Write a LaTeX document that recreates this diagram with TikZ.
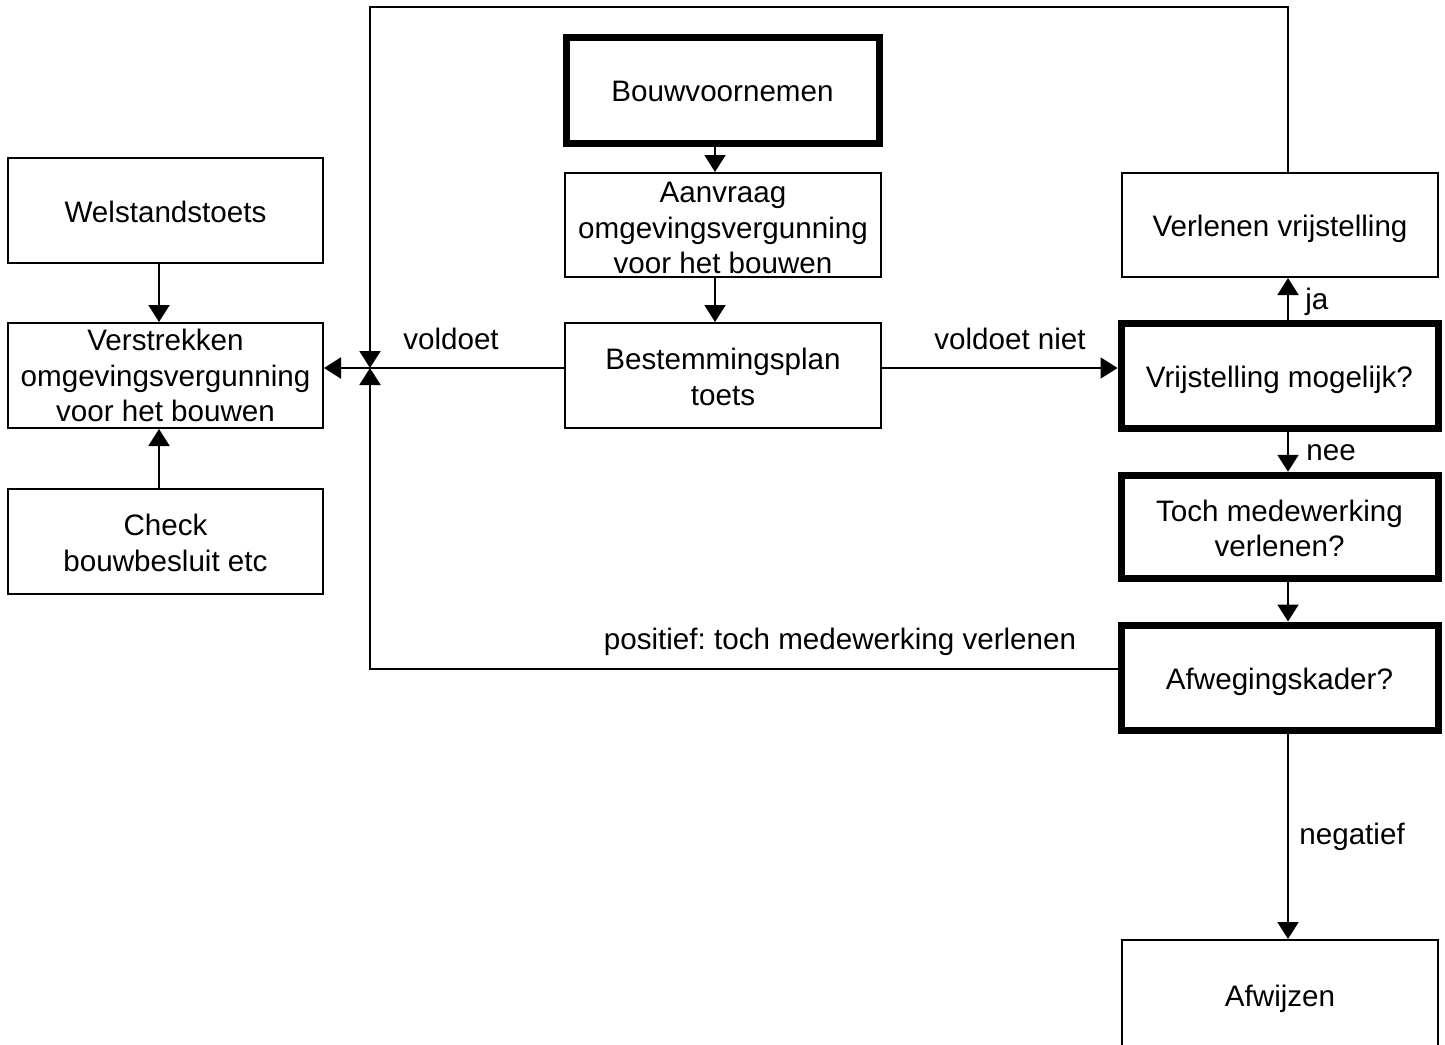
\documentclass[tikz,border=0pt]{standalone}
\usepackage{fontspec}
\setmainfont{Liberation Sans}
\usetikzlibrary{arrows.meta,calc}
\newcommand\topstr{\rule{0pt}{15pt}}
\newcommand\botstr{\rule[-3.2pt]{0pt}{3.2pt}}
\newcommand\mystrut{\topstr\botstr}
\frenchspacing
\begin{document}
\begin{tikzpicture}[x=0.5pt,y=-0.5pt,
  txt/.style={font=\fontsize{14.8}{17.75}\selectfont},
  box/.style={txt,draw,line width=1pt,align=center,inner sep=0pt},
  thickbox/.style={box,line width=3.5pt},
  lbl/.style={txt,inner sep=0pt},
  arr/.style={line width=1pt,-{Triangle[length=8.5pt,width=10.5pt]}}]
\useasboundingbox (0,0) rectangle (1445,1044);
\clip (0,0) rectangle (1445,1044);
\fill[white] (0,0) rectangle (1445,1044);
% nodes
\node[box,minimum width=157.5pt,minimum height=52.5pt] (welst) at (165.5,210.5) {\mystrut Welstandstoets};
\node[box,minimum width=157.5pt,minimum height=52.5pt] (verstr) at (165.5,375.5) {Verstrekken\\omgevingsvergunning\\voor het bouwen};
\node[box,minimum width=157.5pt,minimum height=52.5pt] (check) at (165.5,541.5) {\topstr Check\\bouwbesluit etc\botstr};
\node[thickbox,minimum width=156.5pt,minimum height=53pt] (bouw) at (722.5,90) {\mystrut Bouwvoornemen};
\node[box,minimum width=158pt,minimum height=52pt] (aanv) at (723,225) {\rule{0pt}{13.5pt}Aanvraag\\omgevingsvergunning\\voor het bouwen};
\node[box,minimum width=158pt,minimum height=52.5pt] (best) at (723,375.5) {\topstr Bestemmingsplan\\toets\botstr};
\node[box,minimum width=158pt,minimum height=52pt] (verl) at (1280,225) {\mystrut Verlenen vrijstelling};
\node[thickbox,minimum width=158.5pt,minimum height=52.5pt] (vrij) at (1279.5,375.5) {\mystrut Vrijstelling mogelijk?};
\node[thickbox,minimum width=158.5pt,minimum height=51.75pt] (toch) at (1279.5,527) {\topstr Toch medewerking\\verlenen?\botstr};
\node[thickbox,minimum width=158.5pt,minimum height=52.5pt] (afweg) at (1279.5,677.5) {\mystrut Afwegingskader?};
\node[box,minimum width=158pt,minimum height=55pt] (afw) at (1280,995) {\mystrut Afwijzen};
% helper coordinates
\coordinate (cxL) at (159,0);
\coordinate (cxM) at (715,0);
\coordinate (cxR) at (1288,0);
\coordinate (hy) at (0,368);
\coordinate (jx) at (370,368);
\coordinate (topY) at (0,7);
\coordinate (botY) at (0,669);
% connectors
\draw[arr] (welst.south -| cxL) -- (verstr.north -| cxL);
\draw[arr] (check.north -| cxL) -- (verstr.south -| cxL);
\draw[arr] (bouw.south -| cxM) -- (aanv.north -| cxM);
\draw[arr] (aanv.south -| cxM) -- (best.north -| cxM);
\draw[arr] (best.west |- hy) -- (verstr.east |- hy);
\draw[arr] (best.east |- hy) -- (vrij.west |- hy);
\draw[arr] (vrij.north -| cxR) -- (verl.south -| cxR);
\draw[arr] (vrij.south -| cxR) -- (toch.north -| cxR);
\draw[arr] (toch.south -| cxR) -- (afweg.north -| cxR);
\draw[arr] (afweg.south -| cxR) -- (afw.north -| cxR);
\draw[arr] (verl.north -| cxR) -- (cxR |- topY) -- (jx |- topY) -- (jx);
\draw[arr] (afweg.west |- botY) -- (jx |- botY) -- (jx);
% labels
\node[lbl] (l1) at (451,338) {\mystrut voldoet};
\node[lbl] (l2) at (1010,338) {\mystrut voldoet niet};
\node[lbl,anchor=west] (l3) at (1305,298) {\mystrut ja};
\node[lbl,anchor=west] (l4) at (1306,449) {\mystrut nee};
\node[lbl,anchor=west] (l5) at (1299,833) {\mystrut negatief};
\node[lbl] (l6) at (840,638) {\mystrut positief: toch medewerking verlenen};
\end{tikzpicture}
\end{document}
